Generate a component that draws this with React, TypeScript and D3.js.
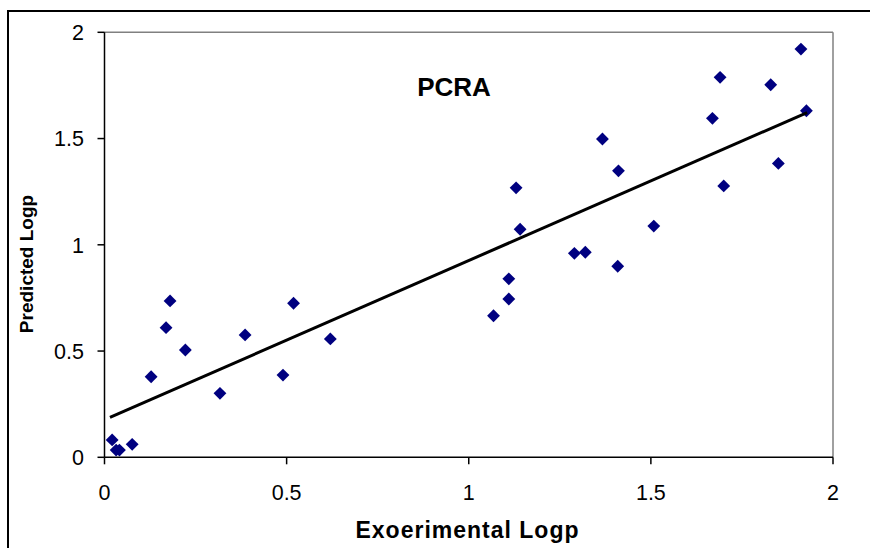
import React from "react";
import * as d3 from "d3";

const expLogp = [0.021, 0.032, 0.041, 0.076, 0.128, 0.169, 0.18, 0.222, 0.317, 0.386, 0.49, 0.519, 0.62,
  1.068, 1.11, 1.11, 1.13, 1.141, 1.29, 1.32, 1.367, 1.411, 1.409, 1.508, 1.669, 1.69, 1.7, 1.829, 1.85, 1.912, 1.927];
const predLogp = [0.082, 0.034, 0.034, 0.061, 0.379, 0.61, 0.736, 0.505, 0.301, 0.576, 0.387, 0.725, 0.557,
  0.666, 0.745, 0.84, 1.268, 1.073, 0.96, 0.965, 1.498, 1.348, 0.899, 1.088, 1.595, 1.788, 1.277, 1.753, 1.383, 1.921, 1.631];
const trendX = [0.015, 1.929];
const trendY = [0.188, 1.622];
const ticks = [0, 0.5, 1, 1.5, 2];
const tickLabels = ["0", "0.5", "1", "1.5", "2"];

export default function App() {
  const W = 870, H = 548;
  const x = d3.scaleLinear().domain([0, 2]).range([104.5, 833]);
  const y = d3.scaleLinear().domain([0, 2]).range([457.3, 32.3]);
  const font = "Arial, 'Liberation Sans', sans-serif";
  const diamond = d3.symbol().type(d3.symbolDiamond2 ?? d3.symbolDiamond).size(105)();
  const line = d3.line<number>().x((d, i) => x(trendX[i])).y((d, i) => y(trendY[i]));
  return (
    <svg width={W} height={H} style={{ position: "absolute", left: 0, top: 0 }}>
      <rect x={0} y={0} width={W} height={H} fill="#fff" />
      <rect x={8} y={11} width={900} height={600} fill="none" stroke="#000" strokeWidth={2} />
      <line x1={x(0)} x2={x(2)} y1={y(2)} y2={y(2)} stroke="#808080" strokeWidth={1.5} />
      <line x1={x(2)} x2={x(2)} y1={y(2)} y2={y(0)} stroke="#808080" strokeWidth={1.5} />
      <line x1={x(0)} x2={x(0)} y1={y(2)} y2={y(0)} stroke="#000" strokeWidth={1.5} />
      <line x1={x(0)} x2={x(2)} y1={y(0)} y2={y(0)} stroke="#000" strokeWidth={1.5} />
      {ticks.map((t, i) => (
        <g key={"y" + i}>
          <line x1={x(0) - 7} x2={x(0)} y1={y(t)} y2={y(t)} stroke="#000" strokeWidth={1.5} />
          <text x={84} y={y(t)} dy="0.36em" textAnchor="end" fontFamily={font} fontSize={21.5}>{tickLabels[i]}</text>
        </g>
      ))}
      {ticks.map((t, i) => (
        <g key={"x" + i}>
          <line x1={x(t)} x2={x(t)} y1={y(0)} y2={y(0) + 7} stroke="#000" strokeWidth={1.5} />
          <text x={x(t)} y={500} textAnchor="middle" fontFamily={font} fontSize={21.5}>{tickLabels[i]}</text>
        </g>
      ))}
      {expLogp.map((v, i) => (
        <path key={"p" + i} d={diamond} transform={`translate(${x(v)},${y(predLogp[i])})`} fill="#000080" />
      ))}
      <path d={line(trendX) ?? ""} fill="none" stroke="#000" strokeWidth={3} />
      <text x={454} y={96} textAnchor="middle" fontFamily={font} fontWeight="bold" fontSize={26}>PCRA</text>
      <text x={467.5} y={538} textAnchor="middle" fontFamily={font} fontWeight="bold" fontSize={23} letterSpacing={1}>Exoerimental Logp</text>
      <text transform={`translate(33,264) rotate(-90)`} textAnchor="middle" fontFamily={font} fontWeight="bold" fontSize={19}>Predicted Logp</text>
    </svg>
  );
}
